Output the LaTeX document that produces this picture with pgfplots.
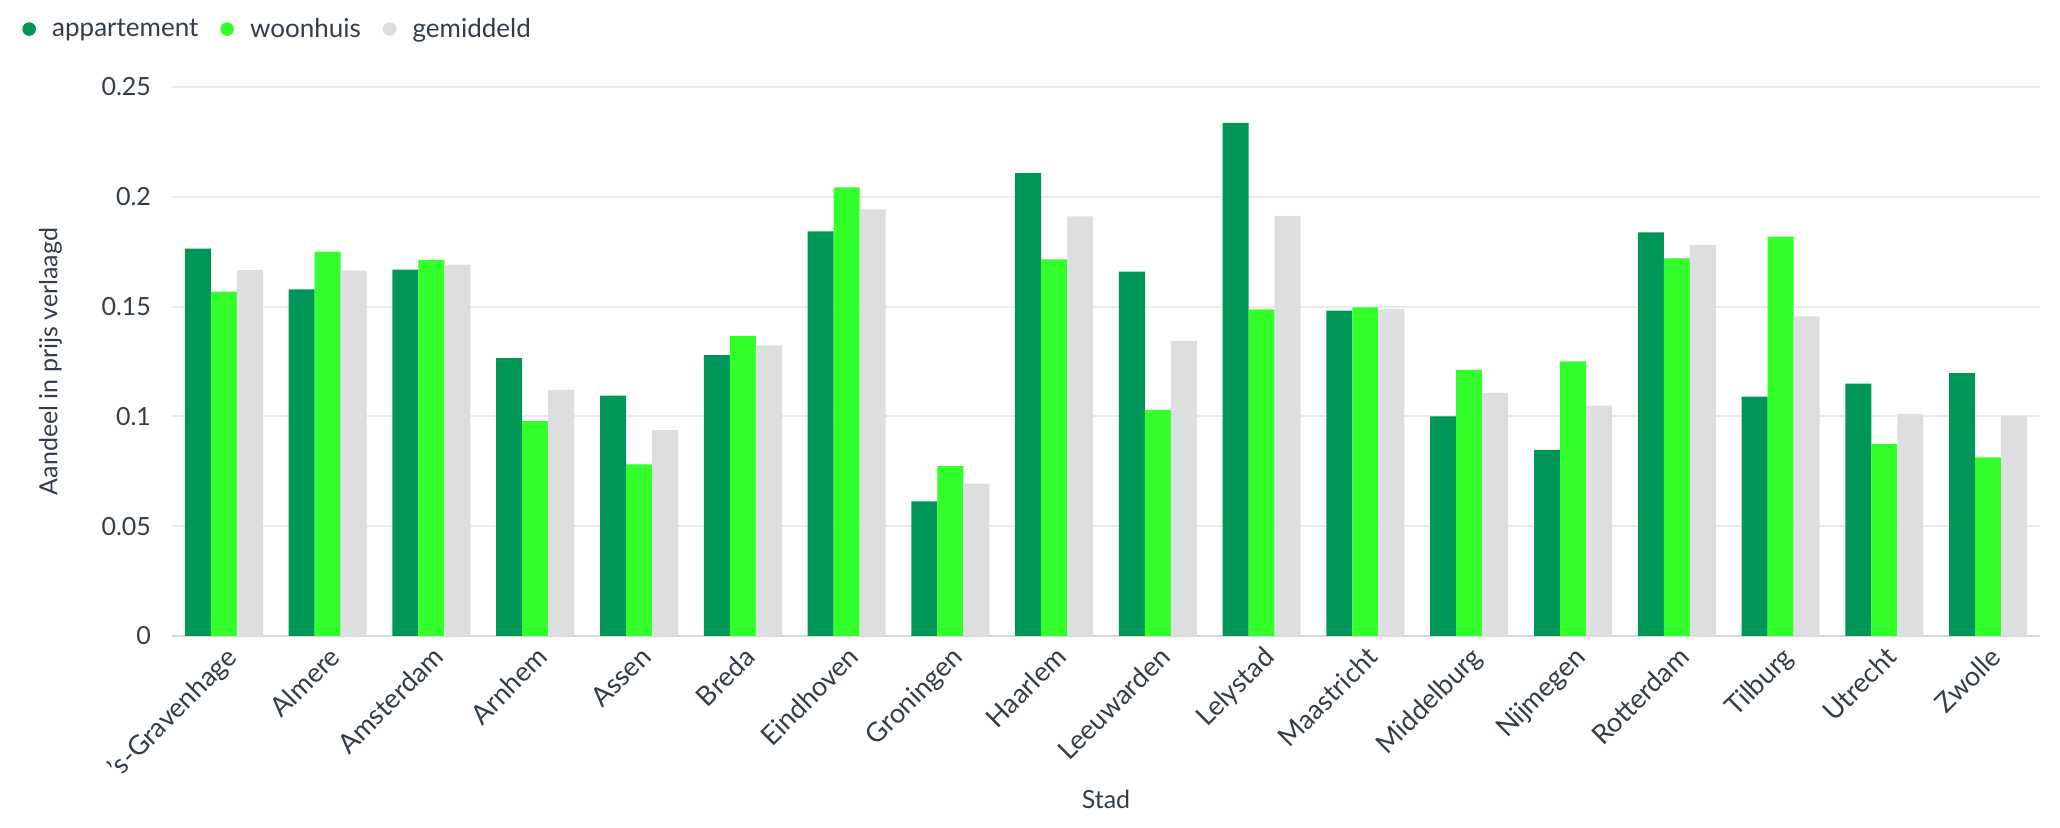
\documentclass[border=0pt]{standalone}
\usepackage{fontspec}
\setmainfont{Lato}
\usepackage{pgfplots}
\pgfplotsset{compat=1.18}
\usepackage{pgfplotstable}
\definecolor{cA}{HTML}{009657}
\definecolor{cB}{HTML}{33FF2A}
\definecolor{cC}{HTML}{DDDEE0}
\definecolor{txt}{HTML}{333D47}
\definecolor{gridc}{HTML}{EBEBEB}
\definecolor{axc}{HTML}{D8D8D8}
\newcommand{\fs}{\fontsize{12.5bp}{15bp}\selectfont}
\newcommand{\fx}{\fontsize{13.5bp}{16bp}\selectfont}
\newcommand{\fl}{\fontsize{13bp}{15bp}\selectfont}
\pgfplotstableread{
x app woon gem
0 0.1764 0.1568 0.1666
1 0.1578 0.1750 0.1664
2 0.1668 0.1713 0.1691
3 0.1265 0.0978 0.1121
4 0.1095 0.0781 0.0937
5 0.1279 0.1367 0.1323
6 0.1843 0.2043 0.1943
7 0.0613 0.0774 0.0694
8 0.2108 0.1715 0.1911
9 0.1659 0.1030 0.1344
10 0.2337 0.1487 0.1913
11 0.1482 0.1496 0.1489
12 0.1000 0.1212 0.1107
13 0.0848 0.1251 0.1049
14 0.1838 0.1720 0.1780
15 0.1090 0.1819 0.1456
16 0.1149 0.0874 0.1011
17 0.1197 0.0813 0.1004
}\data
\begin{document}
\begin{tikzpicture}
\path[use as bounding box] (0bp,0bp) rectangle (1030bp,414bp);
\begin{axis}[
  at={(86bp,96bp)}, anchor=south west,
  width=934bp, height=274.5bp, scale only axis,
  xmin=-0.5, xmax=17.5, ymin=0, ymax=0.25,
  ybar=0pt, bar width=13bp,
  xtick={0,...,17},
  xticklabels={{'s-Gravenhage},Almere,Amsterdam,Arnhem,Assen,Breda,Eindhoven,Groningen,Haarlem,Leeuwarden,Lelystad,Maastricht,Middelburg,Nijmegen,Rotterdam,Tilburg,Utrecht,Zwolle},
  ytick={0,0.05,0.1,0.15,0.2,0.25},
  yticklabels={0,0.05,0.1,0.15,0.2,0.25},
  major tick length=0pt,
  ymajorgrids, grid style={draw=gridc, line width=1bp},
  axis x line*=bottom, axis y line*=left,
  x axis line style={draw=axc, line width=1.3bp, -},
  y axis line style={draw=none},
  tick label style={font=\fs, text=txt},
  yticklabel style={xshift=-7bp},
  xticklabel style={font=\fx, rotate=45, anchor=north east, inner sep=1bp, xshift=-2bp, yshift=-2bp},
  label style={font=\fs, text=txt},
  xlabel={Stad},
  xlabel style={at={(axis description cs:0.5,-0.297)}, anchor=center},
  ylabel={Aandeel in prijs verlaagd},
  ylabel style={at={(axis description cs:-0.065,0.5)}, anchor=center},
  legend style={at={(axis description cs:-0.0803,1.1055)}, anchor=west, draw=none, fill=none,
    inner sep=0pt, font=\fl, text=txt,
    /tikz/every even column/.append style={column sep=9bp}},
  legend columns=3,
  dotlegend/.style={legend image code/.code={\fill (0bp,0bp) circle (3.4bp); \path[draw=none, fill=none] (-3.4bp,-0.1bp) rectangle (9.5bp,0.1bp);}},
]
\addplot[fill=cA, draw=none, dotlegend] table[x=x, y=app] {\data};
\addplot[fill=cB, draw=none, dotlegend] table[x=x, y=woon] {\data};
\addplot[fill=cC, draw=none, dotlegend] table[x=x, y=gem] {\data};
\legend{appartement, woonhuis, gemiddeld}
\end{axis}
\end{tikzpicture}
\end{document}
